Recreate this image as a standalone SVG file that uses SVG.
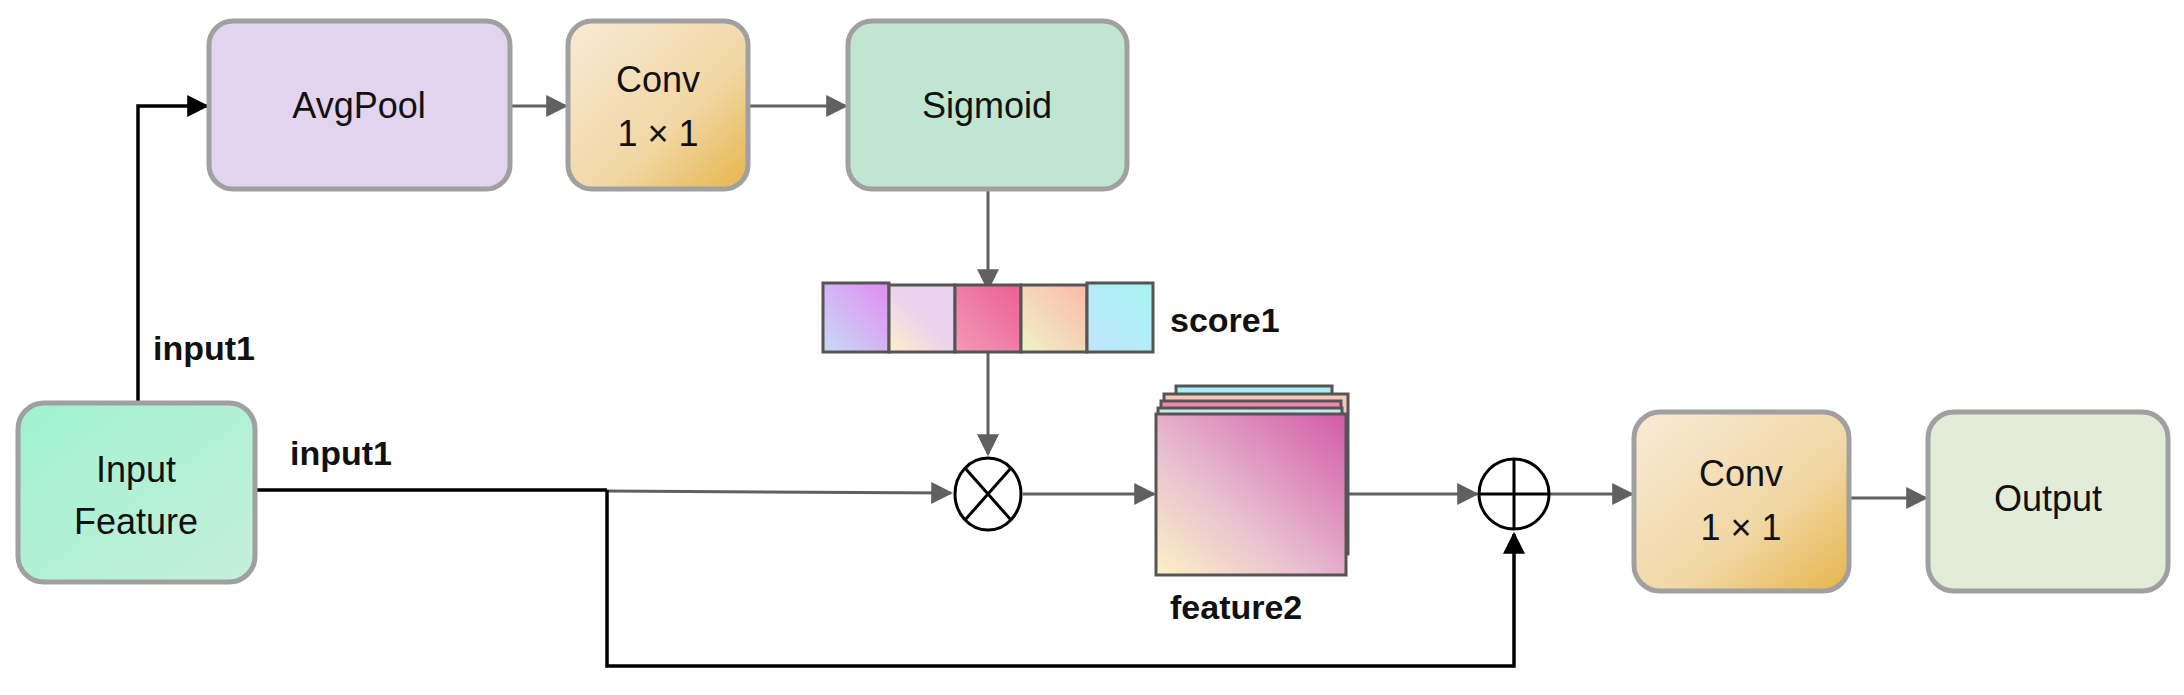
<svg xmlns="http://www.w3.org/2000/svg" width="2184" height="695" viewBox="0 0 2184 695">
<defs>
<style>
.box{stroke:#a0a0a0;stroke-width:5}
.t{font-family:"Liberation Sans",Arial,sans-serif;font-size:36px;fill:#111;text-anchor:middle}
.b{font-family:"Liberation Sans",Arial,sans-serif;font-size:34px;font-weight:bold;fill:#111}
.g{stroke:#606060;stroke-width:3;fill:none}
.k{stroke:#000;stroke-width:3.5;fill:none}
.cell{stroke:#555;stroke-width:3}
</style>
<marker id="ag" viewBox="0 0 10 10" refX="9" refY="5" markerWidth="9" markerHeight="9" markerUnits="userSpaceOnUse" orient="auto"><path d="M0,0L10,5L0,10z" fill="#606060"/></marker>
<marker id="ag2" viewBox="0 0 10 10" refX="9" refY="5" markerWidth="22" markerHeight="22" markerUnits="userSpaceOnUse" orient="auto"><path d="M0,0L10,5L0,10z" fill="#606060"/></marker>
<marker id="ak" viewBox="0 0 10 10" refX="9" refY="5" markerWidth="22" markerHeight="22" markerUnits="userSpaceOnUse" orient="auto"><path d="M0,0L10,5L0,10z" fill="#000"/></marker>
<linearGradient id="gconv" x1="0" y1="0" x2="1" y2="1"><stop offset="0" stop-color="#f8ead6"/><stop offset="0.6" stop-color="#f1d7a4"/><stop offset="1" stop-color="#e6b54a"/></linearGradient>
<linearGradient id="gin" x1="0" y1="0" x2="1" y2="1"><stop offset="0" stop-color="#9ef2cf"/><stop offset="1" stop-color="#c6efdb"/></linearGradient>
<linearGradient id="c1" x1="0" y1="1" x2="1" y2="0"><stop offset="0" stop-color="#c6dcf6"/><stop offset="1" stop-color="#e28bf2"/></linearGradient>
<linearGradient id="c2" x1="0" y1="1" x2="1" y2="0"><stop offset="0" stop-color="#fbf0c8"/><stop offset="0.5" stop-color="#ecd3ee"/><stop offset="1" stop-color="#e8d2f0"/></linearGradient>
<linearGradient id="c3" x1="0" y1="1" x2="1" y2="0"><stop offset="0" stop-color="#f39ab8"/><stop offset="1" stop-color="#ec5f92"/></linearGradient>
<linearGradient id="c4" x1="0" y1="1" x2="1" y2="0"><stop offset="0" stop-color="#eef3c8"/><stop offset="1" stop-color="#fcb9a8"/></linearGradient>
<linearGradient id="c5" x1="0" y1="1" x2="1" y2="0"><stop offset="0" stop-color="#c0e4fb"/><stop offset="1" stop-color="#a6f4f2"/></linearGradient>
<linearGradient id="fm" x1="0" y1="1" x2="1" y2="0"><stop offset="0" stop-color="#fcf2c4"/><stop offset="0.4" stop-color="#e8bfd0"/><stop offset="1" stop-color="#d35aa8"/></linearGradient>
</defs>

<g id="connectors">
<polyline class="k" points="138,403 138,106 207,106" marker-end="url(#ak)"/>
<line class="g" x1="510" y1="106" x2="566" y2="106" marker-end="url(#ag2)"/>
<line class="g" x1="748" y1="106" x2="846" y2="106" marker-end="url(#ag2)"/>
<line class="g" x1="988" y1="189" x2="988" y2="289" marker-end="url(#ag2)"/>
<line class="g" x1="988" y1="352" x2="988" y2="454" marker-end="url(#ag2)"/>
<polyline class="k" points="255,490 607,490"/>
<line class="g" x1="607" y1="491" x2="951" y2="493" marker-end="url(#ag2)"/>
<line class="g" x1="1023" y1="494" x2="1154" y2="494" marker-end="url(#ag2)"/>
<line class="g" x1="1346" y1="494" x2="1477" y2="494" marker-end="url(#ag2)"/>
<polyline class="k" points="607,490 607,666 1514,666 1514,534" marker-end="url(#ak)"/>
<line class="g" x1="1549" y1="494" x2="1632" y2="494" marker-end="url(#ag2)"/>
<line class="g" x1="1849" y1="498" x2="1926" y2="498" marker-end="url(#ag2)"/>
</g>

<g id="avgpool"><rect class="box" x="209" y="21" width="301" height="168" rx="24" fill="#e2d3ef"/><text class="t" x="359" y="118">AvgPool</text></g>
<g id="conv1"><rect class="box" x="568" y="21" width="180" height="168" rx="24" fill="url(#gconv)"/><text class="t" x="658" y="92">Conv</text><text class="t" x="658" y="146">1 × 1</text></g>
<g id="sigmoid"><rect class="box" x="848" y="21" width="279" height="168" rx="24" fill="#c0e6d2"/><text class="t" x="987" y="118">Sigmoid</text></g>
<g id="input"><rect class="box" x="18" y="403" width="237" height="179" rx="26" fill="url(#gin)"/><text class="t" x="136" y="482">Input</text><text class="t" x="136" y="534">Feature</text></g>

<g id="score1">
<rect class="cell" x="823" y="283" width="66" height="69" fill="url(#c1)"/>
<rect class="cell" x="889" y="285" width="66" height="67" fill="url(#c2)"/>
<rect class="cell" x="955" y="285" width="66" height="67" fill="url(#c3)"/>
<rect class="cell" x="1021" y="285" width="66" height="67" fill="url(#c4)"/>
<rect class="cell" x="1087" y="283" width="66" height="69" fill="url(#c5)"/>
<text class="b" x="1170" y="332">score1</text>
</g>

<g id="multiply"><ellipse cx="988" cy="494" rx="33" ry="36" fill="#fff" stroke="#000" stroke-width="3"/><path d="M965,468L1011,520M1011,468L965,520" stroke="#000" stroke-width="3"/></g>

<g id="feature2">
<rect class="cell" x="1116" y="386" width="156" height="160" fill="#a9f0f3" transform="translate(60,0)"/>
<rect class="cell" x="1164" y="394" width="184" height="160" fill="#f7c8b8"/>
<rect class="cell" x="1161" y="401" width="180" height="165" fill="#ee88b0"/>
<rect class="cell" x="1158" y="408" width="184" height="162" fill="#cce8f0"/>
<rect class="cell" x="1156" y="414" width="190" height="161" fill="url(#fm)"/>
<text class="b" x="1170" y="619">feature2</text>
</g>

<g id="add"><circle cx="1514" cy="494" r="35" fill="#fff" stroke="#000" stroke-width="3"/><path d="M1479,494H1549M1514,459V529" stroke="#000" stroke-width="3"/></g>

<g id="conv2"><rect class="box" x="1634" y="412" width="215" height="179" rx="26" fill="url(#gconv)"/><text class="t" x="1741" y="486">Conv</text><text class="t" x="1741" y="540">1 × 1</text></g>
<g id="output"><rect class="box" x="1928" y="412" width="240" height="179" rx="26" fill="#e3ecd8"/><text class="t" x="2048" y="511">Output</text></g>

<text class="b" x="153" y="360">input1</text>
<text class="b" x="290" y="465">input1</text>
</svg>
